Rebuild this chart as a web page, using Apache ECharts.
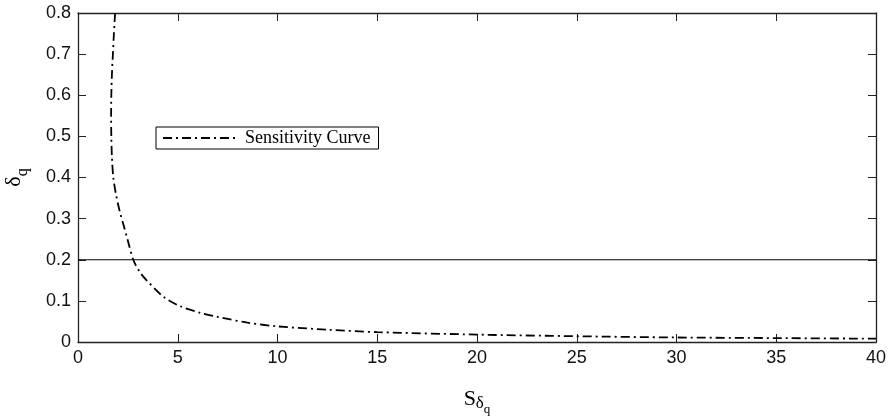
<!DOCTYPE html>
<html>
<head>
<meta charset="utf-8">
<script src="https://cdn.jsdelivr.net/npm/echarts@6/dist/echarts.min.js"></script>
<style>html,body{margin:0;padding:0;background:#fff;}#c{width:890px;height:416px;}</style>
</head>
<body>
<div id="c"></div>
<script>
// Sensitivity curve: S (x) vs delta_q (y)
const sValues = [1.86, 1.80, 1.75, 1.70, 1.67, 1.66, 1.67, 1.70, 1.77, 1.90, 2.08, 2.28, 2.48, 2.77, 3.10, 3.44, 4.28, 5.12, 6.12, 7.00, 8.50, 10.0, 12.5, 15.0, 20.0, 25.0, 30.0, 35.0, 40.0];
const deltaValues = [0.80, 0.75, 0.70, 0.65, 0.60, 0.55, 0.50, 0.45, 0.40, 0.36, 0.32, 0.285, 0.25, 0.20, 0.17, 0.15, 0.11, 0.087, 0.071, 0.061, 0.047, 0.038, 0.030, 0.024, 0.018, 0.014, 0.011, 0.0095, 0.008];
const refX = [0, 40];
const refY = [0.2, 0.2];
const seriesName = 'Sensitivity Curve';

const curve = sValues.map((s, i) => [s, deltaValues[i]]);
const ref = refX.map((x, i) => [x, refY[i]]);

const chart = echarts.init(document.getElementById('c'));
const tickFont = {fontFamily: 'Liberation Sans, Arial, sans-serif', fontSize: 18, color: '#111'};
chart.setOption({
  animation: false,
  backgroundColor: '#fff',
  grid: {left: 78, right: 14, top: 13, bottom: 74, show: false, containLabel: false, outerBoundsMode: 'none'},
  legend: {
    data: [seriesName],
    left: 156, top: 127,
    orient: 'horizontal',
    padding: [2, 8, 2, 6],
    backgroundColor: '#fff',
    borderColor: '#000', borderWidth: 1,
    itemWidth: 75, itemHeight: 12, itemGap: 8,
    itemStyle: {opacity: 0},
    textStyle: {fontFamily: 'Liberation Serif, Times New Roman, serif', fontSize: 18, color: '#000', padding: [0,0,0,2]}
  },
  xAxis: [{
    type: 'value', min: 0, max: 40, interval: 5,
    axisLine: {show: true, onZero: false, lineStyle: {color: '#222', width: 1.3}},
    axisTick: {inside: true, length: 8, lineStyle: {color: '#222'}},
    axisLabel: Object.assign({margin: 7}, tickFont),
    splitLine: {show: false},
    name: '{s|S}{d|δ}{q|q}',
    nameLocation: 'middle', nameGap: 38,
    nameTextStyle: {
      rich: {
        s: {fontFamily: 'Liberation Serif', fontSize: 22, color: '#000', verticalAlign: 'bottom', lineHeight: 30},
        d: {fontFamily: 'Liberation Serif', fontSize: 17, color: '#000', verticalAlign: 'bottom', lineHeight: 30, padding: [0,0,-2,0]},
        q: {fontFamily: 'Liberation Serif', fontSize: 13, color: '#000', verticalAlign: 'bottom', lineHeight: 30, padding: [0,0,-6,0]}
      }
    }
  }, {
    type: 'value', min: 0, max: 40, interval: 5, position: 'top',
    axisLine: {show: true, onZero: false, lineStyle: {color: '#222', width: 1.3}},
    axisTick: {inside: true, length: 8, lineStyle: {color: '#222'}},
    axisLabel: {show: false}, splitLine: {show: false}
  }],
  yAxis: [{
    type: 'value', min: 0, max: 0.8, interval: 0.1,
    axisLine: {show: true, onZero: false, lineStyle: {color: '#222', width: 1.3}},
    axisTick: {inside: true, length: 8, lineStyle: {color: '#222'}},
    axisLabel: Object.assign({margin: 7}, tickFont),
    splitLine: {show: false},
    name: '{d|δ}{q|q}',
    nameLocation: 'middle', nameGap: 53, nameRotate: 90,
    nameTextStyle: {
      rich: {
        d: {fontFamily: 'Liberation Serif', fontSize: 22, color: '#000', verticalAlign: 'bottom', lineHeight: 26},
        q: {fontFamily: 'Liberation Serif', fontSize: 16, color: '#000', verticalAlign: 'bottom', lineHeight: 26, padding: [0,0,-6,0]}
      }
    }
  }, {
    type: 'value', min: 0, max: 0.8, interval: 0.1, position: 'right',
    axisLine: {show: true, onZero: false, lineStyle: {color: '#222', width: 1.3}},
    axisTick: {inside: true, length: 8, lineStyle: {color: '#222'}},
    axisLabel: {show: false}, splitLine: {show: false}
  }],
  series: [{
    name: seriesName,
    type: 'line',
    data: curve,
    smooth: 0.3,
    symbol: 'none',
    lineStyle: {color: '#000', width: 1.8, type: [9, 4, 2, 4]},
    itemStyle: {color: '#000'},
    z: 3
  }, {
    name: 'ref',
    type: 'line',
    data: ref,
    symbol: 'none',
    lineStyle: {color: '#000', width: 1.2},
    z: 2
  }]
});
</script>
</body>
</html>
